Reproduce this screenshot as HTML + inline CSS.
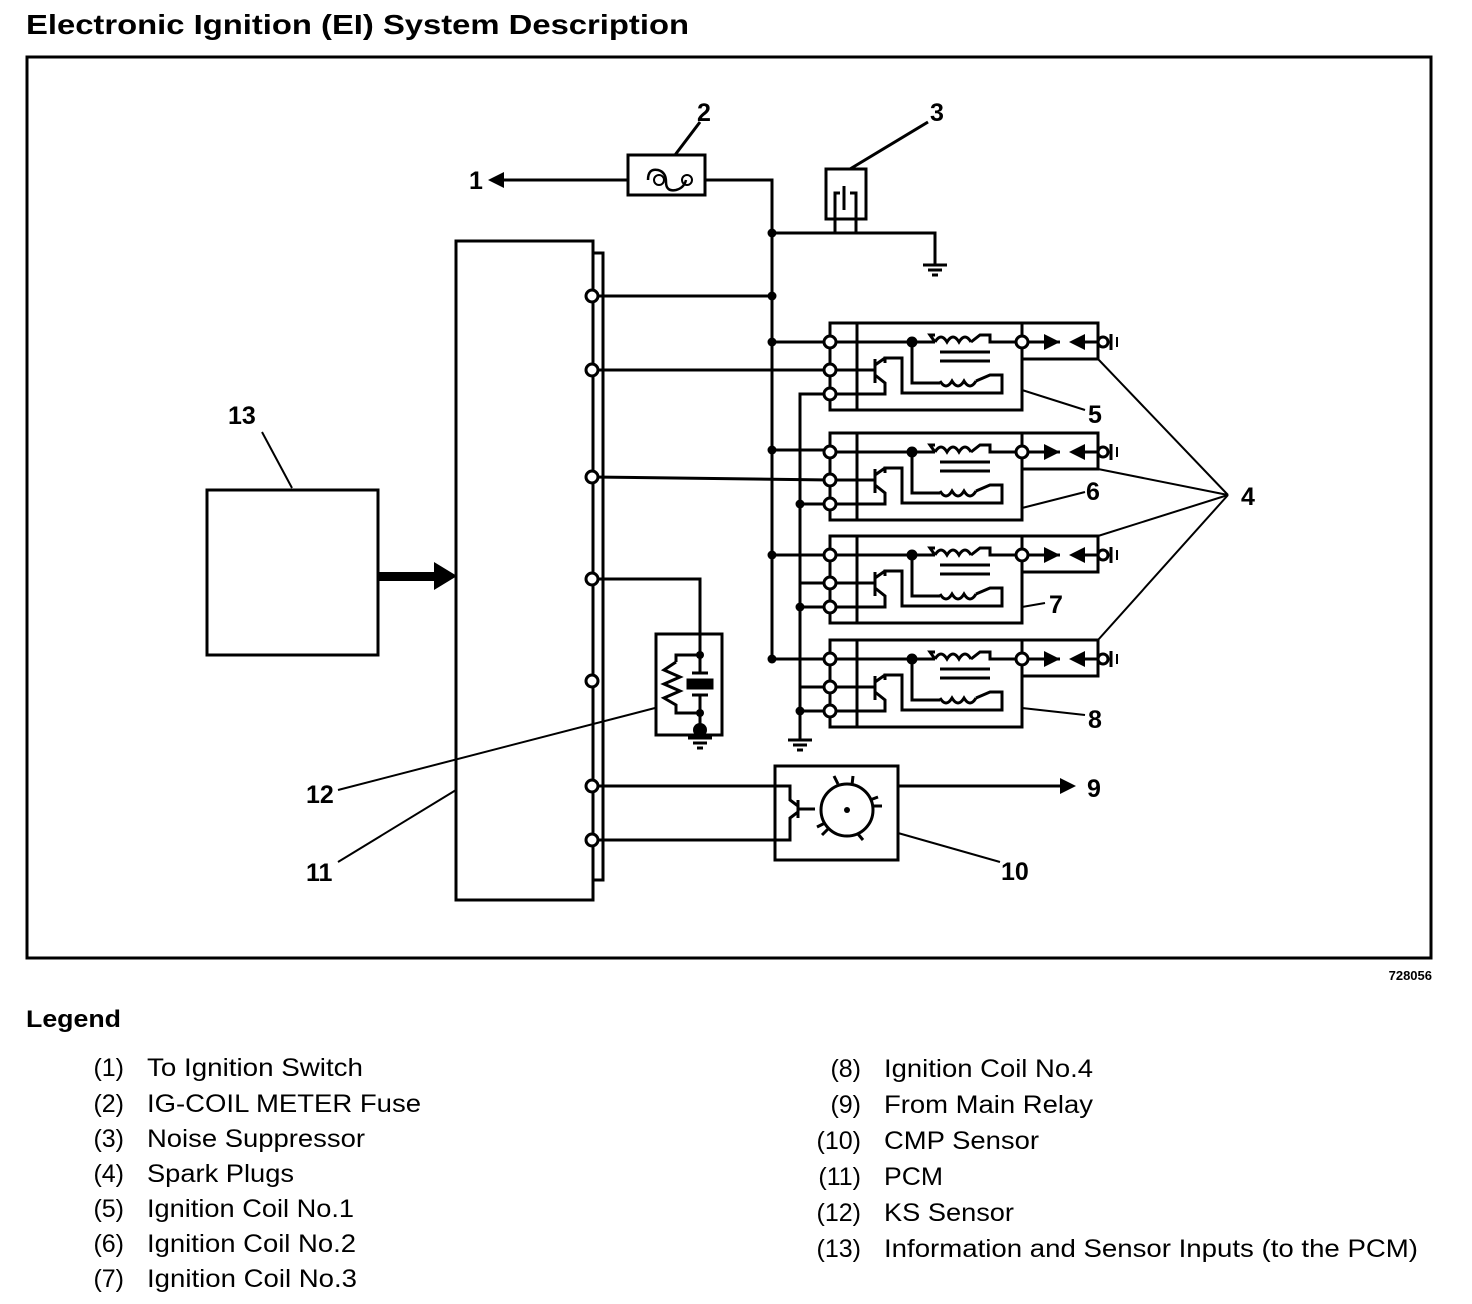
<!DOCTYPE html>
<html><head><style>
body{margin:0;background:#fff;}
svg{display:block;font-family:"Liberation Sans",Arial,sans-serif;}
</style></head><body>
<svg width="1472" height="1304" viewBox="0 0 1472 1304" xmlns="http://www.w3.org/2000/svg">
<defs>
<g id="coil" fill="none" stroke="#000" stroke-width="3">
  <rect x="0" y="0" width="192" height="87"/>
  <line x1="27" y1="0" x2="27" y2="87"/>
  <rect x="192" y="0" width="76" height="36"/>
  <polyline points="0,19 105,19"/>
  <path d="M105,19 q6,-10 12,0 q6,-10 12,0 q6,-10 12,0" />
  <polyline points="141,19 150,12 160,12 160,19 192,19"/>
  <polyline points="105,19 100,12 105,12"/>
  <line x1="110" y1="29" x2="160" y2="29"/>
  <line x1="110" y1="38" x2="160" y2="38"/>
  <polyline points="82,19 82,60 110,60"/>
  <path d="M110,58 q6,10 12,0 q6,10 12,0 q6,10 12,0" />
  <polyline points="146,58 160,52 172,52 172,70 72,70 72,35 55,35 55,40"/>
  <line x1="0" y1="47" x2="45" y2="47"/>
  <line x1="45" y1="36" x2="45" y2="60"/>
  <polyline points="45,42 55,35"/>
  <polyline points="45,52 55,60 55,71 0,71"/>
  <line x1="192" y1="19" x2="230" y2="19"/>
  <polygon points="214,11 230,19 214,27" fill="#000" stroke="none"/>
  <polygon points="255,11 239,19 255,27" fill="#000" stroke="none"/>
  <line x1="250" y1="19" x2="268" y2="19"/>
  <circle cx="273" cy="19" r="5" fill="#fff"/>
  <line x1="281" y1="11" x2="281" y2="27"/>
  <line x1="287" y1="14" x2="287" y2="24" stroke-width="2"/>
  <circle cx="82" cy="19" r="4" fill="#000"/>
  <circle cx="0" cy="19" r="6" fill="#fff"/>
  <circle cx="0" cy="47" r="6" fill="#fff"/>
  <circle cx="0" cy="71" r="6" fill="#fff"/>
  <circle cx="192" cy="19" r="6" fill="#fff"/>
</g>
<g id="gnd" stroke="#000" stroke-width="3">
  <line x1="-12" y1="0" x2="12" y2="0"/>
  <line x1="-7" y1="5" x2="7" y2="5"/>
  <line x1="-3" y1="10" x2="3" y2="10"/>
</g>
</defs>

<text x="26" y="34" font-size="28" font-weight="bold" textLength="663" lengthAdjust="spacingAndGlyphs">Electronic Ignition (EI) System Description</text>
<rect x="27" y="57" width="1404" height="901" fill="none" stroke="#000" stroke-width="3"/>
<text x="1432" y="980" font-size="13" font-weight="bold" text-anchor="end">728056</text>

<g fill="none" stroke="#000" stroke-width="3">
  <rect x="456" y="241" width="137" height="659"/>
  <polyline points="593,253 603,253 603,880 593,880"/>
  <rect x="207" y="490" width="171" height="165"/>
  <rect x="628" y="155" width="77" height="40"/>
  <line x1="500" y1="180" x2="628" y2="180"/>
  <polyline points="705,180 772,180 772,660"/>
  <path d="M648,180 q0,-12 10,-10 q8,2 8,12 q0,10 10,8 q8,-2 10,-10" stroke-width="2.5"/>
  <rect x="826" y="169" width="40" height="50"/>
  <polyline points="835,233 835,193 840,193"/>
  <polyline points="856,233 856,193 850,193"/>
  <line x1="844" y1="186" x2="844" y2="210"/>
  <polyline points="772,233 935,233 935,265"/>
  <line x1="592" y1="296" x2="772" y2="296"/>
  <line x1="592" y1="370" x2="830" y2="370"/>
  <line x1="592" y1="477" x2="830" y2="480"/>
  <polyline points="592,579 700,579 700,634"/>
  <line x1="592" y1="786" x2="775" y2="786"/>
  <line x1="592" y1="840" x2="775" y2="840"/>
  <line x1="772" y1="342" x2="830" y2="342"/>
  <line x1="772" y1="450" x2="830" y2="450"/>
  <line x1="772" y1="555" x2="830" y2="555"/>
  <line x1="772" y1="659" x2="830" y2="659"/>
  <polyline points="830,394 800,394 800,740"/>
  <line x1="800" y1="504" x2="830" y2="504"/>
  <line x1="800" y1="583" x2="830" y2="583"/>
  <line x1="800" y1="607" x2="830" y2="607"/>
  <line x1="800" y1="687" x2="830" y2="687"/>
  <line x1="800" y1="711" x2="830" y2="711"/>
  <rect x="656" y="634" width="66" height="101"/>
  <polyline points="700,634 700,655 676,655 676,662"/>
  <polyline points="676,662 664,670 680,677 664,684 680,691 664,698 676,705 676,713 700,713 700,735"/>
  <line x1="700" y1="655" x2="700" y2="674"/>
  <line x1="692" y1="673" x2="708" y2="673"/>
  <rect x="688" y="680" width="24" height="8" fill="#000"/>
  <line x1="692" y1="695" x2="708" y2="695"/>
  <line x1="700" y1="695" x2="700" y2="713"/>
  <rect x="775" y="766" width="123" height="94"/>
  <polyline points="775,786 790,786 790,800 798,806"/>
  <polyline points="775,840 790,840 790,818 798,812"/>
  <line x1="798" y1="800" x2="798" y2="818"/>
  <line x1="798" y1="809" x2="815" y2="809"/>
  <circle cx="847" cy="810" r="26"/>
  <line x1="838" y1="784" x2="834" y2="776"/><line x1="852" y1="785" x2="853" y2="776"/>
  <line x1="870" y1="800" x2="878" y2="797"/><line x1="872" y1="806" x2="882" y2="806"/>
  <line x1="825" y1="823" x2="817" y2="827"/><line x1="828" y1="829" x2="822" y2="835"/>
  <line x1="858" y1="834" x2="863" y2="840"/>
  <line x1="898" y1="786" x2="1065" y2="786"/>
  <line x1="675" y1="155" x2="700" y2="122"/>
  <line x1="850" y1="169" x2="928" y2="122"/>
  <line x1="262" y1="432" x2="292" y2="488" stroke-width="2"/>
  <line x1="655" y1="708" x2="338" y2="790" stroke-width="2"/>
  <line x1="456" y1="790" x2="338" y2="862" stroke-width="2"/>
  <line x1="898" y1="833" x2="1000" y2="862" stroke-width="2"/>
  <line x1="1022" y1="390" x2="1085" y2="410" stroke-width="2"/>
  <line x1="1022" y1="508" x2="1085" y2="492" stroke-width="2"/>
  <line x1="1022" y1="607" x2="1045" y2="603" stroke-width="2"/>
  <line x1="1022" y1="708" x2="1085" y2="715" stroke-width="2"/>
  <line x1="1098" y1="359" x2="1228" y2="495" stroke-width="2"/>
  <line x1="1098" y1="469" x2="1228" y2="495" stroke-width="2"/>
  <line x1="1098" y1="536" x2="1228" y2="495" stroke-width="2"/>
  <line x1="1098" y1="640" x2="1228" y2="495" stroke-width="2"/>
</g>
<rect x="378" y="572" width="58" height="9" fill="#000"/>
<polygon points="434,562 457,576 434,590" fill="#000"/>
<polygon points="488,180 504,172 504,188" fill="#000"/>
<polygon points="1060,778 1076,786 1060,794" fill="#000"/>
<g fill="none" stroke="#000" stroke-width="2">
  <circle cx="659" cy="180" r="5"/><circle cx="687" cy="180" r="5"/>
</g>
<circle cx="847" cy="810" r="3" fill="#000"/>
<circle cx="700" cy="730" r="7" fill="#000"/>
<use href="#gnd" x="935" y="265"/>
<use href="#gnd" x="800" y="740"/>
<use href="#gnd" x="700" y="738"/>

<use href="#coil" x="830" y="323"/>
<use href="#coil" x="830" y="433"/>
<use href="#coil" x="830" y="536"/>
<use href="#coil" x="830" y="640"/>

<g fill="#000">
  <circle cx="772" cy="233" r="4.5"/><circle cx="772" cy="296" r="4.5"/>
  <circle cx="772" cy="342" r="4.5"/><circle cx="772" cy="450" r="4.5"/>
  <circle cx="772" cy="555" r="4.5"/><circle cx="772" cy="659" r="4.5"/>
  <circle cx="800" cy="504" r="4.5"/><circle cx="800" cy="607" r="4.5"/>
  <circle cx="800" cy="711" r="4.5"/>
  <circle cx="700" cy="655" r="4"/><circle cx="700" cy="713" r="4"/>
</g>
<g fill="#fff" stroke="#000" stroke-width="3">
  <circle cx="592" cy="296" r="6"/><circle cx="592" cy="370" r="6"/>
  <circle cx="592" cy="477" r="6"/><circle cx="592" cy="579" r="6"/>
  <circle cx="592" cy="681" r="6"/><circle cx="592" cy="786" r="6"/>
  <circle cx="592" cy="840" r="6"/>
</g>

<g font-size="25" font-weight="bold">
  <text x="469" y="189">1</text>
  <text x="697" y="121">2</text>
  <text x="930" y="121">3</text>
  <text x="1241" y="505">4</text>
  <text x="1088" y="423">5</text>
  <text x="1086" y="500">6</text>
  <text x="1049" y="613">7</text>
  <text x="1088" y="728">8</text>
  <text x="1087" y="797">9</text>
  <text x="1001" y="880">10</text>
  <text x="306" y="881">11</text>
  <text x="306" y="803">12</text>
  <text x="228" y="424">13</text>
</g>

<text x="26" y="1027" font-size="24" font-weight="bold" textLength="95" lengthAdjust="spacingAndGlyphs">Legend</text>
<g font-size="25">
  <text x="124" y="1076" text-anchor="end">(1)</text><text x="147" y="1076" textLength="216" lengthAdjust="spacingAndGlyphs">To Ignition Switch</text>
  <text x="124" y="1112" text-anchor="end">(2)</text><text x="147" y="1112" textLength="274" lengthAdjust="spacingAndGlyphs">IG-COIL METER Fuse</text>
  <text x="124" y="1147" text-anchor="end">(3)</text><text x="147" y="1147" textLength="218" lengthAdjust="spacingAndGlyphs">Noise Suppressor</text>
  <text x="124" y="1182" text-anchor="end">(4)</text><text x="147" y="1182" textLength="147" lengthAdjust="spacingAndGlyphs">Spark Plugs</text>
  <text x="124" y="1217" text-anchor="end">(5)</text><text x="147" y="1217" textLength="207" lengthAdjust="spacingAndGlyphs">Ignition Coil No.1</text>
  <text x="124" y="1252" text-anchor="end">(6)</text><text x="147" y="1252" textLength="209" lengthAdjust="spacingAndGlyphs">Ignition Coil No.2</text>
  <text x="124" y="1287" text-anchor="end">(7)</text><text x="147" y="1287" textLength="210" lengthAdjust="spacingAndGlyphs">Ignition Coil No.3</text>
  <text x="861" y="1077" text-anchor="end">(8)</text><text x="884" y="1077" textLength="209" lengthAdjust="spacingAndGlyphs">Ignition Coil No.4</text>
  <text x="861" y="1113" text-anchor="end">(9)</text><text x="884" y="1113" textLength="209" lengthAdjust="spacingAndGlyphs">From Main Relay</text>
  <text x="861" y="1149" text-anchor="end">(10)</text><text x="884" y="1149" textLength="155" lengthAdjust="spacingAndGlyphs">CMP Sensor</text>
  <text x="861" y="1185" text-anchor="end">(11)</text><text x="884" y="1185" textLength="59" lengthAdjust="spacingAndGlyphs">PCM</text>
  <text x="861" y="1221" text-anchor="end">(12)</text><text x="884" y="1221" textLength="130" lengthAdjust="spacingAndGlyphs">KS Sensor</text>
  <text x="861" y="1257" text-anchor="end">(13)</text><text x="884" y="1257" textLength="534" lengthAdjust="spacingAndGlyphs">Information and Sensor Inputs (to the PCM)</text>
</g>
</svg>
</body></html>
